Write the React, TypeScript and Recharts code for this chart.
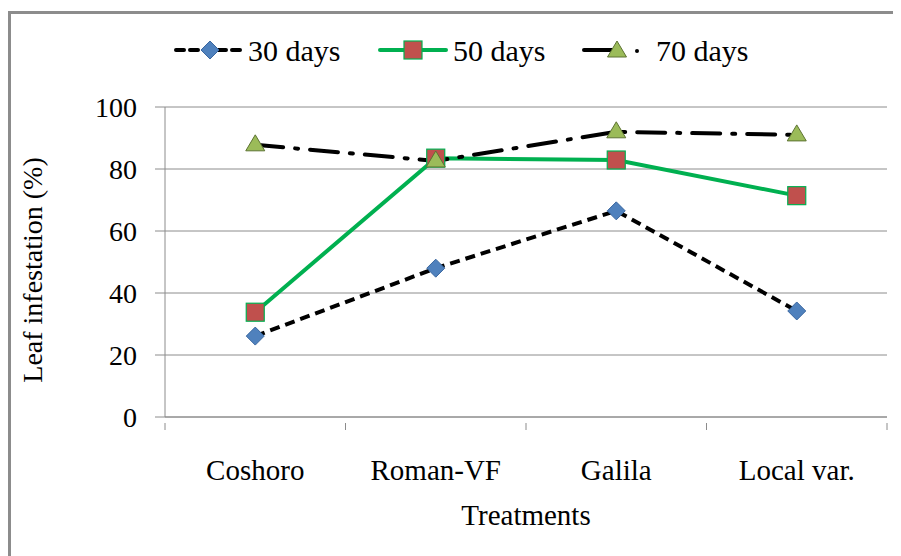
import React from 'react';
import { LineChart, Line, XAxis, YAxis, CartesianGrid, Legend } from 'recharts';

const categories = ['Coshoro', 'Roman-VF', 'Galila', 'Local var.'];
const days30 = [26.1, 48, 66.5, 34.2];
const days50 = [33.8, 83.5, 82.9, 71.4];
const days70 = [87.8, 82.6, 92.0, 91.0];
const yTicks = [0, 20, 40, 60, 80, 100];
const seriesNames = ['30 days', '50 days', '70 days'];

const data = categories.map((name, i) => ({
  name,
  d30: days30[i],
  d50: days50[i],
  d70: days70[i],
}));

const W = 893;
const H = 548;
const MARGIN = { top: 99, right: 14, bottom: 0, left: 0 };
const Y_AXIS_W = 157;
const X_AXIS_H = 139;
const PLOT_W = W - MARGIN.right - Y_AXIS_W;
const HALF_BAND = PLOT_W / categories.length / 2;
const FONT = '"Liberation Serif", "Times New Roman", serif';
const AXIS_GRAY = '#8c8c8c';

const BLUE = '#4f81bd';
const RED = '#c0504d';
const GREEN = '#00b050';
const OLIVE = '#9bbb59';

const Diamond = ({ cx, cy }: any) => (
  <path
    d={`M${cx},${cy - 9} L${cx + 9},${cy} L${cx},${cy + 9} L${cx - 9},${cy} Z`}
    fill={BLUE}
    stroke="#3a67a0"
    strokeWidth={1}
  />
);

const Square = ({ cx, cy }: any) => (
  <rect x={cx - 9} y={cy - 9} width={18} height={18} fill={RED} stroke={GREEN} strokeWidth={1.2} />
);

const Triangle = ({ cx, cy }: any) => (
  <path
    d={`M${cx},${cy - 10} L${cx + 9.5},${cy + 6} L${cx - 9.5},${cy + 6} Z`}
    fill={OLIVE}
    stroke="#5d7332"
    strokeWidth={1}
  />
);

const XTick = ({ x, y, payload, index }: any) => {
  const base = y - 36;
  return (
    <g>
      <line x1={x - HALF_BAND} x2={x - HALF_BAND} y1={base} y2={base + 7} stroke={AXIS_GRAY} />
      {index === categories.length - 1 && (
        <line x1={x + HALF_BAND} x2={x + HALF_BAND} y1={base} y2={base + 7} stroke={AXIS_GRAY} />
      )}
      <text x={x} y={y} dy="0.71em" textAnchor="middle" fontSize={29} fontFamily={FONT} fill="#000">
        {payload.value}
      </text>
    </g>
  );
};

const YLabel = ({ viewBox }: any) => {
  const cx = 24;
  const cy = viewBox.y + viewBox.height / 2 + 8;
  return (
    <text
      x={cx}
      y={cy}
      transform={`rotate(-90 ${cx} ${cy})`}
      textAnchor="middle"
      dominantBaseline="central"
      fontSize={28}
      fontFamily={FONT}
      fill="#000"
    >
      Leaf infestation (%)
    </text>
  );
};

// legend drawn as one svg strip, same look as the Excel original
const renderLegend = () => {
  const cy = 20;
  const txt = { fontSize: 30, fontFamily: FONT, fill: '#000', dominantBaseline: 'central' as const };
  return (
    <svg width={W} height={40} style={{ display: 'block' }}>
      <line x1={168} x2={234} y1={cy} y2={cy} stroke="#000" strokeWidth={4} strokeDasharray="8 6" strokeLinecap="round" />
      <Diamond cx={202} cy={cy} />
      <text x={240} y={cy} {...txt}>{seriesNames[0]}</text>

      <line x1={372} x2={438} y1={cy} y2={cy} stroke={GREEN} strokeWidth={4} strokeLinecap="round" />
      <Square cx={405} cy={cy} />
      <text x={445} y={cy} {...txt}>{seriesNames[1]}</text>

      <line x1={576} x2={606} y1={cy} y2={cy} stroke="#000" strokeWidth={4} strokeLinecap="round" />
      <Triangle cx={609} cy={cy + 1} />
      <circle cx={629} cy={cy + 1} r={2} fill="#000" />
      <text x={648} y={cy} {...txt}>{seriesNames[2]}</text>
    </svg>
  );
};

export default function App() {
  return (
    <div style={{ position: 'relative', width: W, height: H, overflow: 'hidden', background: '#fff' }}>
      <div
        style={{
          position: 'absolute',
          left: 0,
          top: 3,
          width: 960,
          height: 700,
          border: `3px solid ${AXIS_GRAY}`,
          boxSizing: 'border-box',
        }}
      />
      <div style={{ position: 'absolute', left: 0, top: 0 }}>
        <LineChart width={W} height={H} data={data} margin={MARGIN}>
          <CartesianGrid vertical={false} stroke={AXIS_GRAY} />
          <XAxis
            dataKey="name"
            height={X_AXIS_H}
            padding={{ left: HALF_BAND, right: HALF_BAND }}
            stroke={AXIS_GRAY}
            tickLine={false}
            tickMargin={36}
            tick={<XTick />}
            interval={0}
            label={{
              value: 'Treatments',
              position: 'insideBottom',
              offset: 31,
              style: { fontSize: 29, fontFamily: FONT, fill: '#000' },
            }}
          />
          <YAxis
            width={Y_AXIS_W}
            domain={[0, 100]}
            ticks={yTicks}
            stroke={AXIS_GRAY}
            tickSize={10}
            tickMargin={18}
            tick={{ fill: '#000', fontSize: 28, fontFamily: FONT }}
            label={{ content: <YLabel /> }}
          />
          <Legend content={renderLegend} verticalAlign="middle" wrapperStyle={{ top: 22, left: 0, width: W }} />
          <Line
            dataKey="d30"
            name="30 days"
            stroke="#000"
            strokeWidth={4}
            strokeDasharray="10 6"
            dot={<Diamond />}
            isAnimationActive={false}
          />
          <Line
            dataKey="d50"
            name="50 days"
            stroke={GREEN}
            strokeWidth={4}
            dot={<Square />}
            isAnimationActive={false}
          />
          <Line
            dataKey="d70"
            name="70 days"
            stroke="#000"
            strokeWidth={4}
            strokeDasharray="28 12 3 12"
            strokeLinecap="round"
            dot={<Triangle />}
            isAnimationActive={false}
          />
        </LineChart>
      </div>
    </div>
  );
}
